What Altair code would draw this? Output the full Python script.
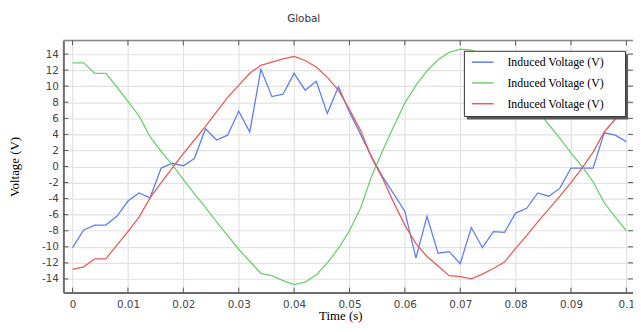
import altair as alt
import pandas as pd

time_s = [0.000, 0.002, 0.004, 0.006, 0.008, 0.010, 0.012, 0.014, 0.016, 0.018,
          0.020, 0.022, 0.024, 0.026, 0.028, 0.030, 0.032, 0.034, 0.036, 0.038,
          0.040, 0.042, 0.044, 0.046, 0.048, 0.050, 0.052, 0.054, 0.056, 0.058,
          0.060, 0.062, 0.064, 0.066, 0.068, 0.070, 0.072, 0.074, 0.076, 0.078,
          0.080, 0.082, 0.084, 0.086, 0.088, 0.090, 0.092, 0.094, 0.096, 0.098,
          0.100]

blue_v = [-10.1, -7.9, -7.3, -7.3, -6.2, -4.3, -3.3, -3.9, -0.2, 0.4,
          0.1, 1.0, 4.7, 3.3, 3.9, 6.9, 4.3, 12.1, 8.7, 9.0,
          11.6, 9.5, 10.6, 6.6, 9.9, 6.8, 4.0, 1.2, -1.3, -3.4,
          -5.6, -11.4, -6.2, -10.8, -10.6, -12.1, -7.6, -10.1, -8.1, -8.2,
          -5.8, -5.2, -3.3, -3.7, -2.7, -0.2, -0.2, -0.2, 4.2, 3.9,
          3.1]

green_v = [12.9, 12.9, 11.6, 11.6, 9.9, 8.1, 6.3, 3.7, 1.9, 0.2,
           -1.6, -3.4, -5.1, -6.9, -8.6, -10.3, -11.8, -13.3, -13.6, -14.2,
           -14.7, -14.4, -13.5, -12.0, -10.2, -8.0, -5.2, -1.2, 2.0, 5.0,
           7.9, 10.1, 11.9, 13.3, 14.2, 14.6, 14.5, 14.0, 13.1, 12.0,
           10.6, 9.1, 7.0, 5.2, 3.5, 1.7, 0.0, -1.9, -4.5, -6.3,
           -8.0]

red_v = [-12.8, -12.5, -11.5, -11.5, -9.8, -8.1, -6.3, -3.9, -2.0, -0.2,
         1.6, 3.3, 5.0, 6.8, 8.6, 10.1, 11.6, 12.6, 13.0, 13.4,
         13.7, 13.2, 12.4, 11.1, 9.5, 7.1, 4.5, 1.1, -1.5, -4.5,
         -7.3, -9.6, -11.2, -12.4, -13.6, -13.7, -14.0, -13.4, -12.7, -11.9,
         -10.2, -8.6, -6.9, -5.3, -3.7, -2.0, -0.2, 1.8, 4.3, 5.9,
         6.8]

series_keys = ["s1", "s2", "s3"]
series_label = "Induced Voltage (V)"
series_colors = ["#5f7ef3", "#6fcf6f", "#e45c5c"]

x_ticks = [0, 0.01, 0.02, 0.03, 0.04, 0.05, 0.06, 0.07, 0.08, 0.09, 0.1]
y_ticks = [-14, -12, -10, -8, -6, -4, -2, 0, 2, 4, 6, 8, 10, 12, 14]

W, H = 576, 255
X_DOMAIN = [-0.00166, 0.1012]
Y_DOMAIN = [-15.7, 15.7]

rows = []
for key, vals in zip(series_keys, [blue_v, green_v, red_v]):
    for tt, vv in zip(time_s, vals):
        rows.append({"t": tt, "v": vv, "series": key})
df = pd.DataFrame(rows)

xs = alt.Scale(domain=X_DOMAIN, nice=False, zero=False)
ys = alt.Scale(domain=Y_DOMAIN, nice=False, zero=False)

TICK_FONT = "DejaVu Sans"
SERIF = "Liberation Serif"

x_axis = alt.Axis(
    values=x_ticks, labelExpr="datum.value + ''", grid=True,
    gridColor="#e2e2e2", gridWidth=1.2, ticks=False, tickSize=0,
    domain=True, domainColor="#6e6e6e", domainWidth=2,
    labelFont=TICK_FONT, labelFontSize=10.5, labelColor="#444444",
    labelPadding=7, labelFlush=False, labelOverlap=False,
    title="Time (s)", titleFont=SERIF, titleFontSize=13,
    titleFontWeight="normal", titleColor="#000000",
    titleX=280, titleY=23, titleBaseline="middle", titleAlign="center")
y_axis = alt.Axis(
    values=y_ticks, labelExpr="datum.value + ''", grid=True,
    gridColor="#e2e2e2", gridWidth=1.2, ticks=False, tickSize=0,
    domain=True, domainColor="#6e6e6e", domainWidth=2,
    labelFont=TICK_FONT, labelFontSize=10.5, labelColor="#444444",
    labelPadding=5, labelOverlap=False,
    title="Voltage (V)", titleFont=SERIF, titleFontSize=13,
    titleFontWeight="normal", titleColor="#000000",
    titleX=-49, titleY=127.5, titleBaseline="middle", titleAlign="center",
    titleAngle=270)

lines = alt.Chart(df).mark_line(strokeWidth=1.3, clip=True).encode(
    x=alt.X("t:Q", scale=xs, axis=x_axis),
    y=alt.Y("v:Q", scale=ys, axis=y_axis),
    color=alt.Color("series:N", scale=alt.Scale(domain=series_keys, range=series_colors),
                    legend=alt.Legend(
                        orient="none", legendX=412, legendY=10, title=None,
                        labelExpr="'" + series_label + "'",
                        symbolType="stroke", symbolSize=484, symbolStrokeWidth=1.5,
                        labelFont=SERIF, labelFontSize=12, labelColor="#000000",
                        labelOffset=13, rowPadding=3, padding=0)),
    detail="series:N",
)

one = pd.DataFrame({"k": [0]})
shadow = alt.Chart(one).mark_rect(color="#5a5a5a").encode(
    x=alt.value(408), x2=alt.value(571), y=alt.value(14), y2=alt.value(80))
box = alt.Chart(one).mark_rect(fill="white", stroke="#333333", strokeWidth=1).encode(
    x=alt.value(405.5), x2=alt.value(568.5), y=alt.value(11), y2=alt.value(77))

top_line = alt.Chart(one).mark_rule(color="#8a8a8a", strokeWidth=1.5).encode(
    x=alt.value(0), x2=alt.value(W), y=alt.value(0))

xt = pd.DataFrame({"t": x_ticks})
yt = pd.DataFrame({"v": y_ticks})
tick_style = dict(color="#555555", strokeWidth=1)
bottom_ticks = alt.Chart(xt).mark_rule(**tick_style).encode(
    x=alt.X("t:Q", scale=xs, axis=x_axis), y=alt.value(H - 5), y2=alt.value(H))
top_ticks = alt.Chart(xt).mark_rule(**tick_style).encode(
    x=alt.X("t:Q", scale=xs, axis=x_axis), y=alt.value(0), y2=alt.value(5))
left_ticks = alt.Chart(yt).mark_rule(**tick_style).encode(
    y=alt.Y("v:Q", scale=ys, axis=y_axis), x=alt.value(0), x2=alt.value(5))
right_ticks = alt.Chart(yt).mark_rule(**tick_style).encode(
    y=alt.Y("v:Q", scale=ys, axis=y_axis), x=alt.value(W - 5), x2=alt.value(W))

chart = alt.layer(
    lines, shadow, box, top_line, bottom_ticks, top_ticks, left_ticks, right_ticks
).properties(
    width=W, height=H,
    title=alt.TitleParams(text="Global", anchor="middle", dx=-45, offset=10,
                          baseline="middle", font=TICK_FONT, fontSize=10.5,
                          fontWeight="normal", color="#333333"),
    autosize=alt.AutoSizeParams(type="none"),
    padding={"left": 56, "top": 31, "right": 0, "bottom": 30},
).configure_view(stroke=None).configure(background="white")

chart.save("out.html", embed_options={"renderer": "svg", "actions": False})
